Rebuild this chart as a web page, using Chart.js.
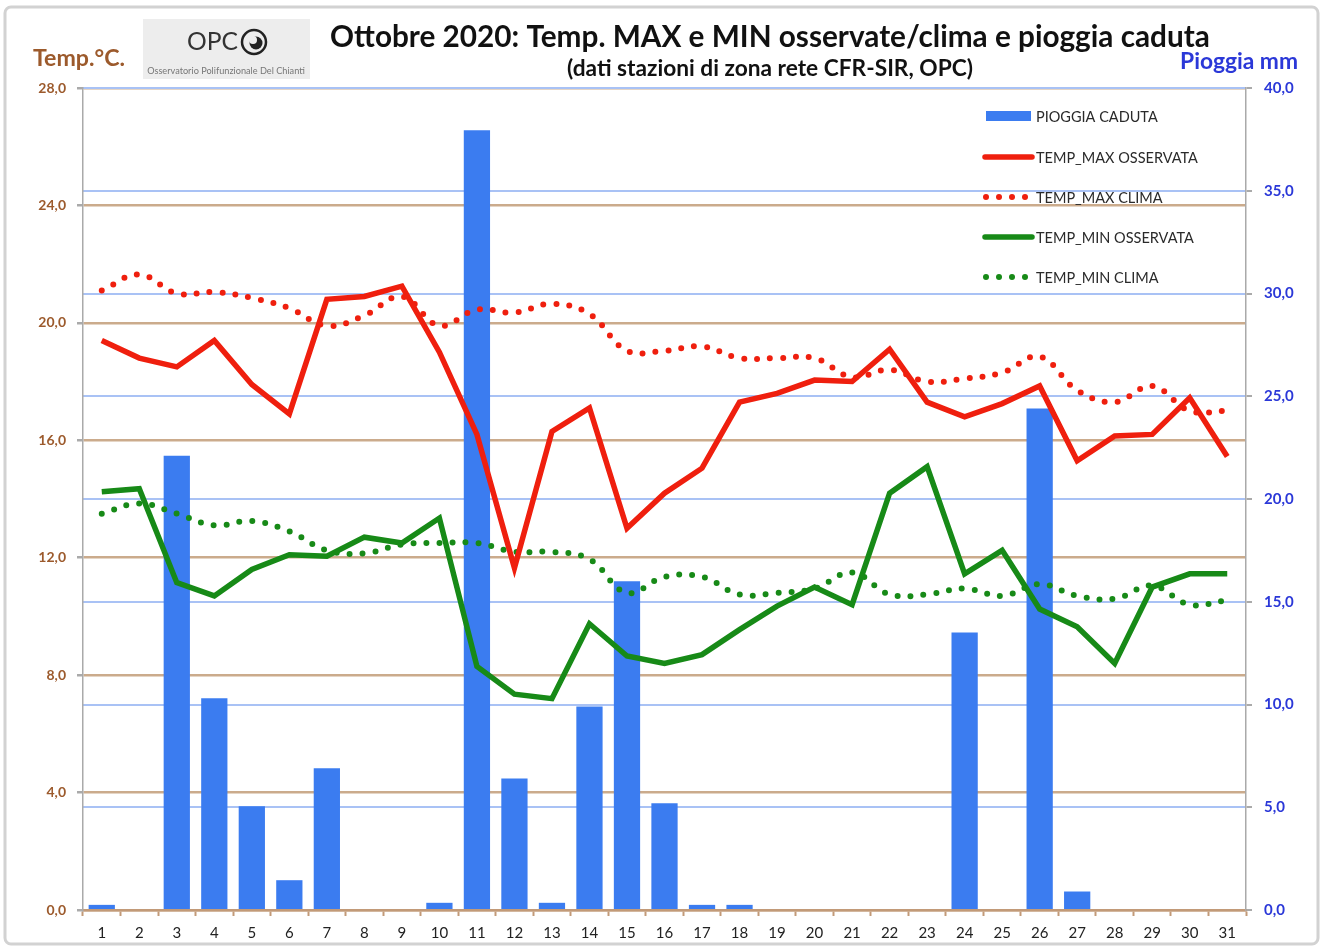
<!DOCTYPE html>
<html>
<head>
<meta charset="utf-8">
<script src="https://cdn.jsdelivr.net/npm/chart.js@4.4.0/dist/chart.umd.min.js"></script>
<style>
  body { margin: 0; background: #fff; }
  #box { position: relative; width: 1326px; height: 950px; }
</style>
</head>
<body>
<div id="box"><canvas id="myChart"></canvas></div>
<script>
// dati
const giorni = ['1','2','3','4','5','6','7','8','9','10','11','12','13','14','15','16',
                '17','18','19','20','21','22','23','24','25','26','27','28','29','30','31'];

const pioggia = [0.25, 0, 22.1, 10.3, 5.05, 1.45, 6.9, 0, 0, 0.35, 37.95, 6.4, 0.35, 9.9, 16.0, 5.2,
                 0.25, 0.25, 0, 0, 0, 0, 0, 13.5, 0, 24.4, 0.9, 0, 0, 0, 0];

const tMaxOss = [19.4, 18.8, 18.5, 19.4, 17.9, 16.9, 20.8, 20.9, 21.25, 19.0, 16.2, 11.65, 16.3, 17.1, 13.0, 14.2,
                 15.05, 17.3, 17.6, 18.05, 18.0, 19.1, 17.3, 16.8, 17.25, 17.85, 15.3, 16.15, 16.2, 17.45, 15.45];

const tMaxClima = [21.1, 21.65, 21.0, 21.05, 20.85, 20.5, 19.9, 20.25, 20.9, 19.9, 20.45, 20.35, 20.65, 20.3, 19.05, 19.05,
                   19.2, 18.8, 18.8, 18.8, 18.15, 18.4, 18.0, 18.1, 18.3, 18.85, 17.7, 17.3, 17.85, 17.0, 17.0];

const tMinOss = [14.25, 14.35, 11.15, 10.7, 11.6, 12.1, 12.05, 12.7, 12.5, 13.35, 8.3, 7.35, 7.2, 9.75, 8.65, 8.4,
                 8.7, 9.55, 10.35, 11.0, 10.4, 14.2, 15.1, 11.45, 12.25, 10.25, 9.65, 8.4, 11.0, 11.45, 11.45];

const tMinClima = [13.5, 13.85, 13.5, 13.1, 13.25, 12.9, 12.25, 12.15, 12.45, 12.5, 12.5, 12.2, 12.2, 11.95, 10.8, 11.35,
                   11.35, 10.75, 10.8, 10.95, 11.5, 10.75, 10.75, 10.95, 10.7, 11.1, 10.7, 10.6, 11.05, 10.4, 10.55];

const BROWN = '#9c5a2c';
const BLUE_TXT = '#2b38d8';
const RED = '#ef1f0e';
const GREEN = '#178a17';
const BAR = '#3b7cf0';
const FONT = 'Lato, "Liberation Sans", sans-serif';

const virgola = v => Number(v).toFixed(1).replace('.', ',');

// sfondo, cornice, titoli, logo e legenda
const decorazioni = {
  id: 'decorazioni',
  beforeDraw(chart) {
    const c = chart.ctx;
    c.save();
    c.fillStyle = '#fff';
    c.fillRect(0, 0, chart.width, chart.height);
    c.strokeStyle = '#d2d2d2';
    c.lineWidth = 3;
    c.beginPath();
    c.roundRect(5, 7, 1313, 937, 6);
    c.stroke();
    c.restore();
  },
  afterDraw(chart) {
    const c = chart.ctx;
    c.save();
    c.textBaseline = 'middle';

    function testo(t, x, y, size, weight, color, align, larghezza) {
      c.font = weight + ' ' + size + 'px ' + FONT;
      if (larghezza) {
        const w = c.measureText(t).width;
        size = size * larghezza / w;
        c.font = weight + ' ' + size + 'px ' + FONT;
      }
      c.fillStyle = color;
      c.textAlign = align;
      c.fillText(t, x, y);
    }

    testo('Ottobre 2020: Temp. MAX e MIN osservate/clima e pioggia caduta', 770, 37, 26, 'bold', '#111', 'center', 880);
    testo('(dati stazioni di zona rete CFR-SIR, OPC)', 770, 69, 19, 'bold', '#111', 'center', 406);
    testo('Temp.°C.', 33, 59, 21, 'bold', BROWN, 'left', 92);
    testo('Pioggia mm', 1298, 62, 20, 'bold', BLUE_TXT, 'right', 118);

    // logo OPC
    c.fillStyle = '#ededed';
    c.fillRect(143, 19, 167, 60);
    testo('OPC', 187, 42, 25, 'normal', '#333', 'left', 51);
    c.strokeStyle = '#222';
    c.lineWidth = 2.5;
    c.beginPath();
    c.arc(254, 42, 12, 0, Math.PI * 2);
    c.stroke();
    c.fillStyle = '#222';
    c.beginPath();
    c.arc(256, 43, 6.5, 0, Math.PI * 2);
    c.fill();
    c.fillStyle = '#ededed';
    c.beginPath();
    c.arc(253, 40, 4, 0, Math.PI * 2);
    c.fill();
    testo('Osservatorio Polifunzionale Del Chianti', 226, 71, 7, 'normal', '#777', 'center', 158);

    // legenda
    const righe = [116, 157, 197, 237, 277];
    chart.data.datasets.forEach((ds, i) => {
      const y = righe[i];
      if (ds.type === 'bar') {
        c.fillStyle = ds.backgroundColor;
        c.fillRect(986, y - 5, 45, 10);
      } else if (ds.borderDash && ds.borderDash.length) {
        c.fillStyle = ds.borderColor;
        [986, 999, 1012, 1025].forEach(x => {
          c.beginPath();
          c.arc(x, y, 3, 0, Math.PI * 2);
          c.fill();
        });
      } else {
        c.strokeStyle = ds.borderColor;
        c.lineWidth = 5.5;
        c.lineCap = 'round';
        c.beginPath();
        c.moveTo(985, y);
        c.lineTo(1032, y);
        c.stroke();
      }
      testo(ds.label, 1036, y + 1, 14.5, 'normal', '#2a2a2a', 'left');
    });
    c.restore();
  }
};

const ctx1 = document.getElementById('myChart');

new Chart(ctx1, {
  data: {
    labels: giorni,
    datasets: [
      {
        type: 'bar',
        label: 'PIOGGIA CADUTA',
        data: pioggia,
        yAxisID: 'yPioggia',
        backgroundColor: BAR,
        barPercentage: 0.7,
        categoryPercentage: 1,
        order: 10
      },
      {
        type: 'line',
        label: 'TEMP_MAX OSSERVATA',
        data: tMaxOss,
        yAxisID: 'yTemp',
        borderColor: RED,
        borderWidth: 5.5,
        pointRadius: 0,
        tension: 0,
        order: 2
      },
      {
        type: 'line',
        label: 'TEMP_MAX CLIMA',
        data: tMaxClima,
        yAxisID: 'yTemp',
        borderColor: RED,
        borderWidth: 6,
        borderDash: [0, 13],
        borderCapStyle: 'round',
        pointRadius: 0,
        tension: 0.4,
        order: 3
      },
      {
        type: 'line',
        label: 'TEMP_MIN OSSERVATA',
        data: tMinOss,
        yAxisID: 'yTemp',
        borderColor: GREEN,
        borderWidth: 5.5,
        pointRadius: 0,
        tension: 0,
        order: 2
      },
      {
        type: 'line',
        label: 'TEMP_MIN CLIMA',
        data: tMinClima,
        yAxisID: 'yTemp',
        borderColor: GREEN,
        borderWidth: 6,
        borderDash: [0, 13],
        borderCapStyle: 'round',
        pointRadius: 0,
        tension: 0.4,
        order: 3
      }
    ]
  },
  options: {
    responsive: true,
    maintainAspectRatio: false,
    animation: false,
    layout: { padding: { top: 88, left: 0, right: 0, bottom: 0 } },
    plugins: {
      legend: { display: false },
      title: { display: false },
      tooltip: { enabled: false }
    },
    scales: {
      x: {
        offset: true,
        grid: {
          offset: true,
          drawOnChartArea: false,
          drawTicks: true,
          tickLength: 6,
          tickColor: '#c29a78',
          tickWidth: 2
        },
        border: { color: '#c29a78', width: 2.5 },
        ticks: {
          color: '#222',
          padding: 8,
          maxRotation: 0,
          autoSkip: false,
          font: { family: FONT, size: 15 }
        },
        afterFit(scale) { scale.height = 40; }
      },
      yTemp: {
        position: 'left',
        min: 0,
        max: 28,
        ticks: {
          stepSize: 4,
          color: BROWN,
          padding: 11,
          font: { family: FONT, size: 14, weight: 'bold' },
          callback: v => virgola(v)
        },
        grid: { color: '#cbab8c', lineWidth: 2.5, tickLength: 6, tickColor: '#aaa' },
        border: { color: '#aaa', width: 1.5 },
        afterFit(scale) { scale.width = 83; }
      },
      yPioggia: {
        position: 'right',
        min: 0,
        max: 40,
        ticks: {
          stepSize: 5,
          color: BLUE_TXT,
          padding: 12,
          font: { family: FONT, size: 15, weight: 'bold' },
          callback: v => virgola(v)
        },
        grid: { color: '#a9c2f5', lineWidth: 2, tickLength: 6, tickColor: '#aaa' },
        border: { color: '#aaa', width: 1.5 },
        afterFit(scale) { scale.width = 80; }
      }
    }
  },
  plugins: [decorazioni]
});
</script>
</body>
</html>
